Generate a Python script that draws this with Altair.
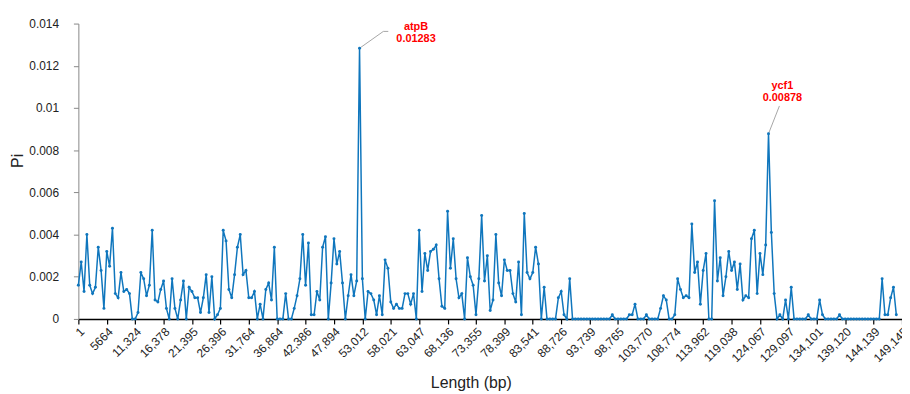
import altair as alt
import pandas as pd

# Nucleotide diversity (Pi) per sliding window
pi_values = [
    0.0016, 0.0027, 0.0013, 0.0040, 0.0016, 0.0012, 0.0015, 0.0034, 0.0023, 0.0005,
    0.0032, 0.0025, 0.0043, 0.0012, 0.0010, 0.0022, 0.0013, 0.0014, 0.0012, 0.0000,
    0.0000, 0.0003, 0.0022, 0.0019, 0.0011, 0.0016, 0.0042, 0.0009, 0.0008, 0.0014,
    0.0018, 0.0005, 0.0000, 0.0019, 0.0005, 0.0000, 0.0009, 0.0018, 0.0000, 0.0015,
    0.0013, 0.0010, 0.0010, 0.0003, 0.0010, 0.0021, 0.0003, 0.0020, 0.0000, 0.0002,
    0.0005, 0.0042, 0.0037, 0.0014, 0.0010, 0.0021, 0.0034, 0.0040, 0.0021, 0.0023,
    0.0010, 0.0010, 0.0013, 0.0000, 0.0007, 0.0000, 0.0014, 0.0017, 0.0009, 0.0034,
    0.0000, 0.0000, 0.0000, 0.0012, 0.0000, 0.0000, 0.0005, 0.0011, 0.0019, 0.0040,
    0.0016, 0.0036, 0.0002, 0.0002, 0.0013, 0.0009, 0.0034, 0.0039, 0.0000, 0.0017,
    0.0038, 0.0026, 0.0032, 0.0017, 0.0000, 0.0011, 0.0021, 0.0011, 0.0018, 0.01283,
    0.0019, 0.0000, 0.0013, 0.0012, 0.0009, 0.0002, 0.0011, 0.0002, 0.0028, 0.0024,
    0.0008, 0.0005, 0.0007, 0.0005, 0.0005, 0.0012, 0.0012, 0.0007, 0.0012, 0.0000,
    0.0042, 0.0013, 0.0031, 0.0023, 0.0032, 0.0033, 0.0035, 0.0019, 0.0006, 0.0005,
    0.0051, 0.0024, 0.0038, 0.0019, 0.0010, 0.0012, 0.0000, 0.0029, 0.0020, 0.0016,
    0.0002, 0.0019, 0.0049, 0.0018, 0.0030, 0.0004, 0.0009, 0.0040, 0.0017, 0.0011,
    0.0028, 0.0023, 0.0023, 0.0012, 0.0008, 0.0027, 0.0002, 0.0050, 0.0022, 0.0019,
    0.0022, 0.0034, 0.0026, 0.0000, 0.0015, 0.0000, 0.0000, 0.0000, 0.0000, 0.0010,
    0.0013, 0.0002, 0.0000, 0.0019, 0.0000, 0.0000, 0.0000, 0.0000, 0.0000, 0.0000,
    0.0000, 0.0000, 0.0000, 0.0000, 0.0000, 0.0000, 0.0000, 0.0000, 0.0002, 0.0000,
    0.0000, 0.0000, 0.0000, 0.0000, 0.0002, 0.0002, 0.0007, 0.0000, 0.0000, 0.0000,
    0.0002, 0.0000, 0.0000, 0.0000, 0.0000, 0.0005, 0.0011, 0.0009, 0.0000, 0.0000,
    0.0002, 0.0019, 0.0014, 0.0010, 0.0011, 0.0010, 0.0045, 0.0022, 0.0027, 0.0007,
    0.0023, 0.0031, 0.0000, 0.0000, 0.0056, 0.0018, 0.0029, 0.0011, 0.0020, 0.0032,
    0.0023, 0.0027, 0.0014, 0.0026, 0.0009, 0.0011, 0.0010, 0.0038, 0.0042, 0.0012,
    0.0031, 0.0021, 0.0035, 0.00878, 0.0041, 0.0012, 0.0000, 0.0002, 0.0000, 0.0009,
    0.0000, 0.0015, 0.0000, 0.0000, 0.0000, 0.0000, 0.0000, 0.0002, 0.0000, 0.0000,
    0.0000, 0.0009, 0.0002, 0.0000, 0.0000, 0.0000, 0.0000, 0.0000, 0.0002, 0.0000,
    0.0000, 0.0000, 0.0000, 0.0000, 0.0000, 0.0000, 0.0000, 0.0000, 0.0000, 0.0000,
    0.0000, 0.0000, 0.0000, 0.0019, 0.0002, 0.0002, 0.0010, 0.0015, 0.0002,
]

tick_labels = [
    "1", "5664", "11,324", "16,378", "21,395", "26,396", "31,764", "36,864",
    "42,386", "47,894", "53,012", "58,021", "63,047", "68,136", "73,355",
    "78,399", "83,541", "88,726", "93,739", "98,765", "103,770", "108,774",
    "113,962", "119,038", "124,067", "129,097", "134,101", "139,120",
    "144,139", "149,145",
]
y_ticks = [0, 0.002, 0.004, 0.006, 0.008, 0.01, 0.012, 0.014]

annot_genes = ["atpB", "ycf1"]
annot_idx = [99, 243]
annot_values = [0.01283, 0.00878]

BLUE = "#0f76bd"
RED = "#ff0000"
GREY = "#a6a6a6"
FONT = "Liberation Sans"

W, H = 831, 298
X_MAX = 10 * (len(tick_labels) - 1)
Y_MAX = 0.014
px_x = W / X_MAX          # pixels per window
px_y = H / Y_MAX          # pixels per Pi unit

df = pd.DataFrame({"idx": list(range(len(pi_values))), "pi": pi_values})

ann = pd.DataFrame({
    "gene": annot_genes,
    "idx": annot_idx,
    "pi": annot_values,
    "label": [f"{g}\n{v:.5f}" for g, v in zip(annot_genes, annot_values)],
})

# leader line shapes (pixel offsets from the peak) -> data units
leader_px = {
    "atpB": [(0, 0), (24, 17), (29, 17)],
    "ycf1": [(0, 0), (11, 28)],
}
rows = []
for g, i, v in zip(annot_genes, annot_idx, annot_values):
    for k, (ox, oy) in enumerate(leader_px[g]):
        rows.append({"gene": g, "step": k, "idx": i + ox / px_x, "pi": v + oy / px_y})
leaders = pd.DataFrame(rows)

label_expr = "[" + ",".join(f"'{t}'" for t in tick_labels) + "][round(datum.value/10)]"

x_enc = alt.X(
    "idx:Q",
    scale=alt.Scale(domain=[0, X_MAX], nice=False, zero=False),
    axis=alt.Axis(
        values=list(range(0, X_MAX + 1, 10)),
        tickCount=len(tick_labels),
        labelExpr=label_expr,
        labelAngle=-45,
        labelFontSize=12,
        labelColor="#222222",
        labelPadding=2,
        labelOverlap=False,
        labelBound=False,
        labelFlush=False,
        tickSize=5,
        tickColor="#000000",
        domainColor="#000000",
        domainWidth=1.6,
        tickWidth=1.2,
        title="Length (bp)",
        titleFontSize=16,
        titleFontWeight="normal",
        titleColor="#222222",
        titleX=396,
        titleY=64,
        titleBaseline="middle",
    ),
)
y_enc = alt.Y(
    "pi:Q",
    scale=alt.Scale(domain=[0, Y_MAX], nice=False),
    axis=alt.Axis(
        values=y_ticks,
        tickCount=len(y_ticks),
        format="~g",
        labelFontSize=12,
        labelColor="#222222",
        labelPadding=15,
        labelOverlap=False,
        tickSize=5,
        tickColor="#888888",
        domainColor="#888888",
        title="Pi",
        titleFontSize=16,
        titleFontWeight="normal",
        titleColor="#222222",
        titleX=-61,
        titleY=138,
        titleBaseline="middle",
    ),
)

line = alt.Chart(df).mark_line(
    color=BLUE, strokeWidth=1.5,
    point=alt.OverlayMarkDef(filled=True, size=9, color=BLUE),
).encode(x=x_enc, y=y_enc)

lead = alt.Chart(leaders).mark_line(color=GREY, strokeWidth=1).encode(
    x="idx:Q", y="pi:Q", detail="gene:N", order="step:Q"
)

text_offsets = {"atpB": (57, -21), "ycf1": (14, -48)}
texts = []
for g in annot_genes:
    dx, dy = text_offsets[g]
    texts.append(
        alt.Chart(ann).transform_filter(alt.datum.gene == g).mark_text(
            dx=dx, dy=dy, color=RED, fontWeight="bold", fontSize=11,
            font=FONT, lineBreak="\n", lineHeight=12,
            align="center", baseline="middle",
        ).encode(x="idx:Q", y="pi:Q", text="label:N")
    )

chart = alt.layer(lead, line, *texts).properties(
    width=W, height=H,
    autosize="none",
    padding={"left": 71, "top": 14, "right": 0, "bottom": 72},
).configure_axis(
    grid=False, labelFont=FONT, titleFont=FONT,
).configure_view(stroke=None)

chart.save("out.html", embed_options={"renderer": "svg", "actions": False})
